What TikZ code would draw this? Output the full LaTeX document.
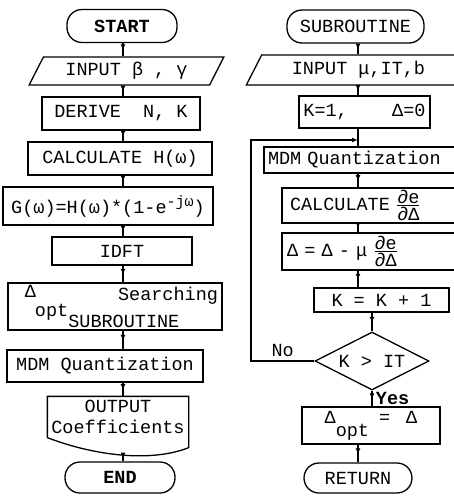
\documentclass[tikz,border=0pt]{standalone}
\usepackage{amsmath}
\usepackage{fontspec}
\setmainfont{Liberation Mono}
\usepackage{tikz}
\usetikzlibrary{shapes.geometric,arrows.meta,decorations.markings}

\begin{document}
\begin{tikzpicture}[
        node distance=45pt,
        font=\fontsize{18.5}{21}\selectfont,
        line/.style={line width=1.3pt},
        box/.style={rectangle, draw, line width=1.3pt, inner sep=2pt, align=center},
        term/.style={box, rounded corners=15pt},
        io/.style={trapezium, draw, line width=1.3pt, trapezium left angle=63, trapezium right angle=117, inner sep=2pt},
        cond/.style={diamond, draw, line width=1.3pt, aspect=2, inner sep=1pt},
        flow/.style={line, postaction={decorate}, decoration={markings, mark=at position 0.55 with {\arrow{Latex[length=6pt,width=5pt]}}}}
    ]
        \useasboundingbox (0pt,0pt) rectangle (454pt,-496pt);
        \clip (0pt,0pt) rectangle (454pt,-496pt);

        % Main program
        \node[term, minimum width=110pt, minimum height=33pt] (start) at (122pt,-26pt) {\textbf{START}};
        \node[io, minimum width=167pt, minimum height=28pt, below of=start, xshift=4.5pt] (inA) {INPUT β , γ};
        \node[box, minimum width=158pt, minimum height=33pt, below of=inA, xshift=-5.5pt, yshift=2.5pt] (derive) {DERIVE~~N, K};
        \node[box, minimum width=184pt, minimum height=33pt, below of=derive, xshift=-1pt] (calcH) {CALCULATE H(ω)};
        \node[box, minimum width=210pt, minimum height=38pt, below of=calcH, xshift=-12pt, yshift=-2.5pt] (calcG) {G(ω)=H(ω)*(1-e\raisebox{7pt}{\fontsize{15}{15}\selectfont -jω})};
        \node[box, minimum width=140pt, minimum height=28pt, below of=calcG, xshift=14pt] (idft) {IDFT};
        \node[box, minimum width=214pt, minimum height=47pt, below of=idft, xshift=-7pt, yshift=-10.5pt] (search) {\parbox{206pt}{\hspace*{13pt}\raisebox{3pt}{Δ}\hfill Searching\\[-1pt]\hspace*{23pt}\raisebox{11pt}{opt}SUBROUTINE}};
        \node[box, minimum width=196pt, minimum height=32pt, below of=search, xshift=-10pt, yshift=-14.5pt] (mdmA) {MDM Quantization};
        \node[box, draw=none, minimum width=140pt, minimum height=40pt, below of=mdmA, xshift=13pt, yshift=-6pt] (output) {OUTPUT\\Coefficients};
        \node[term, minimum width=110pt, minimum height=31pt, below of=output, xshift=2pt, yshift=-15.5pt] (finish) {\textbf{END}};

        % Subroutine
        \node[term, minimum width=137pt, minimum height=33pt] (sub) at (355.5pt,-26.5pt) {SUBROUTINE};
        \node[io, minimum width=163pt, minimum height=30pt, below of=sub, xshift=3pt, yshift=1.5pt] (inB) {INPUT μ,IT,b};
        \node[box, minimum width=131pt, minimum height=32pt, below of=inB, xshift=6pt, yshift=3pt] (init) {K=1,~~~~Δ=0};
        \node[box, minimum height=26pt, text width=186pt, align=left, inner xsep=4pt, inner ysep=0pt, below of=init, xshift=-3.5pt, yshift=-3pt] (mdmB) {MDM Quantization};
        \node[box, minimum height=35pt, text width=160pt, align=left, inner xsep=8pt, inner ysep=0pt, below of=mdmB, xshift=9pt, yshift=-0.5pt] (calcD) {CALCULATE $\genfrac{}{}{1pt}{1}{\mbox{∂e}}{\mbox{∂Δ}}$};
        \node[box, minimum height=37pt, text width=166pt, align=left, inner xsep=5pt, inner ysep=0pt, below of=calcD, yshift=-1pt] (update) {Δ = Δ - μ $\genfrac{}{}{1pt}{1}{\mbox{∂e}}{\mbox{∂Δ}}$};
        \node[box, minimum width=135pt, minimum height=24pt, inner ysep=0pt, below of=update, xshift=11.5pt, yshift=-3.5pt] (incr) {K = K + 1};
        \node[cond, minimum width=114pt, minimum height=58pt, below of=incr, xshift=-9.5pt, yshift=-16pt] (test) {K > IT};
        \node[box, minimum width=138pt, minimum height=37pt, inner ysep=1pt, below of=test, xshift=-1pt, yshift=-19.5pt] (dopt) {\raisebox{6pt}{Δ}\raisebox{-7pt}{opt}\hspace{10pt}\raisebox{6pt}{=\hspace{16pt}Δ}};
        \node[term, minimum width=108pt, minimum height=30pt, below of=dopt, xshift=-13pt, yshift=-7.5pt] (ret) {RETURN};

        % Spines and loop points
        \coordinate (lspine) at (123pt,0pt);
        \coordinate (rspine) at (358pt,0pt);
        \coordinate (rspine2) at (372pt,0pt);
        \coordinate (loopx) at (251pt,0pt);
        \coordinate (join) at (358pt,-140pt);

        % Output document outline
        \draw[line] (output.south west) -- (output.north west) -- (output.north east) -- ([yshift=-10pt]output.south east)
            .. controls +(-38pt,-15pt) and +(47pt,-18pt) .. node[coordinate, pos=0.5] (wave) {} (output.south west);

        % Arrows, main program
        \draw[flow] (start.south -| lspine) -- (inA.north -| lspine);
        \draw[flow] (inA.south -| lspine) -- (derive.north -| lspine);
        \draw[flow] (derive.south -| lspine) -- (calcH.north -| lspine);
        \draw[flow] (calcH.south -| lspine) -- (calcG.north -| lspine);
        \draw[flow] (calcG.south -| lspine) -- (idft.north -| lspine);
        \draw[flow] (idft.south -| lspine) -- (search.north -| lspine);
        \draw[flow] (search.south -| lspine) -- (mdmA.north -| lspine);
        \draw[flow] (mdmA.south -| lspine) -- (output.north -| lspine);
        \draw[flow] (lspine |- wave) -- (finish.north -| lspine);

        % Arrows, subroutine
        \draw[flow] (sub.south -| rspine) -- (inB.north -| rspine);
        \draw[flow] (inB.south -| rspine) -- (init.north -| rspine);
        \draw[line] (init.south -| rspine) -- (mdmB.north -| rspine);
        \draw[line, -{Latex[length=6pt,width=5pt]}] (test.west) -- node[above] {No} (test.west -| loopx) |- (join);
        \draw[flow] (mdmB.south -| rspine) -- (calcD.north -| rspine);
        \draw[flow] (calcD.south -| rspine) -- (update.north -| rspine);
        \draw[flow] (update.south -| rspine) -- (incr.north -| rspine);
        \draw[flow] (incr.south -| rspine2) -- (test.north);
        \draw[flow] (test.south) -- node[right] {\textbf{Yes}} (dopt.north -| test.south);
        \draw[flow] (dopt.south -| rspine) -- (ret.north -| rspine);
    \end{tikzpicture}
\end{document}
